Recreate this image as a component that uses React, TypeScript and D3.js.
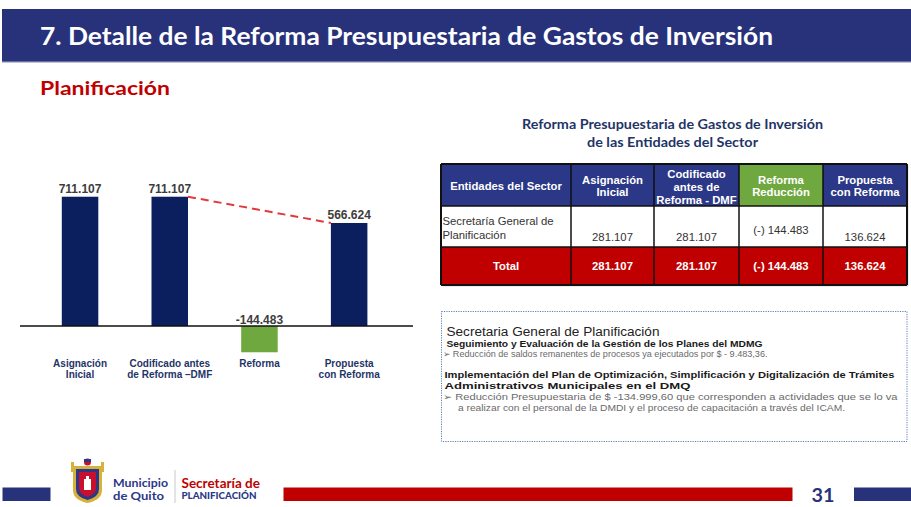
import React from "react";
import * as d3 from "d3";

// ---------- DATA ----------
const categories = ["Asignación Inicial", "Codificado antes de Reforma –DMF", "Reforma", "Propuesta con Reforma"];
const categoryLines = [["Asignación", "Inicial"], ["Codificado antes", "de Reforma –DMF"], ["Reforma"], ["Propuesta", "con Reforma"]];
const values = [711.107, 711.107, -144.483, 566.624];
const valueLabels = ["711.107", "711.107", "-144.483", "566.624"];

const tableTitle = ["Reforma Presupuestaria de Gastos de Inversión", "de las Entidades del Sector"];
const tableHeaders = [["Entidades del  Sector"], ["Asignación", "Inicial"], ["Codificado", "antes de", "Reforma - DMF"], ["Reforma", "Reducción"], ["Propuesta", "con Reforma"]];
const entityName = ["Secretaría General de", "Planificación"];
const rowValues = ["281.107", "281.107", "(-) 144.483", "136.624"];
const totalLabel = "Total";
const totalValues = ["281.107", "281.107", "(-) 144.483", "136.624"];

const noteTitle = "Secretaria General de Planificación";
const noteLines = [
  { t: "Seguimiento y Evaluación de la Gestión de los Planes del MDMG", kind: "bold" },
  { t: "➢  Reducción de saldos remanentes de procesos ya ejecutados por $ - 9.483,36.", kind: "text" },
  { t: "Implementación del Plan de Optimización, Simplificación y Digitalización de Trámites", kind: "bold" },
  { t: "Administrativos Municipales en el DMQ", kind: "bold" },
  { t: "➢  Reducción Presupuestaria de $ -134.999,60 que corresponden a actividades que se lo va", kind: "text" },
  { t: "a realizar con el personal de la DMDI y el proceso de capacitación a través del ICAM.", kind: "text" },
];

const pageTitle = "7. Detalle de la Reforma Presupuestaria de Gastos de Inversión";
const subTitle = "Planificación";
const pageNumber = "31";

// ---------- STYLE ----------
const NAVY = "#28327a";
const BAR = "#0b1f5e";
const GREEN = "#6fa83f";
const RED = "#c00000";
const ARIAL = "'Liberation Sans', Arial, sans-serif";
const CAL = "Lato, 'Open Sans', sans-serif";

export default function App() {
  const x = d3.scaleBand<string>().domain(categories).range([35.2, 394]).paddingInner(0.593).paddingOuter(0.2965);
  const y = d3.scaleLinear().domain([-200, 800]).range([326 + 200 * 0.1818, 326 - 800 * 0.1818]);
  const y0 = y(0);

  // table layout
  const colX = [441, 571, 654, 739, 823, 907];
  const rowY = [164, 206, 247, 285];

  const i1 = 1, i3 = 3;
  const dashX1 = (x(categories[i1]) as number) + x.bandwidth();
  const dashX2 = x(categories[i3]) as number;

  const noteY = [347, 357, 378, 388.8, 400, 410.8];
  const noteX = [446.5, 442.5, 444.5, 444.5, 442.5, 458];
  const noteW = [316, 325, 450, 246, 455, 387];

  return (
    <div style={{ position: "absolute", left: 0, top: 0 }}>
      <svg width={911} height={507} style={{ display: "block", background: "#fff" }}>
        {/* Header band */}
        <rect x={2} y={9} width={909} height={53} fill={NAVY} />
        <rect x={2} y={61.5} width={909} height={1.2} fill="#a7acc9" />
        <text x={40} y={45} fill="#fff" fontFamily={CAL} fontWeight={700} fontSize={24} textLength={733} lengthAdjust="spacingAndGlyphs">{pageTitle}</text>
        <text x={40} y={95} fill={RED} fontFamily={CAL} fontWeight={700} fontSize={19} textLength={130} lengthAdjust="spacingAndGlyphs">{subTitle}</text>

        {/* Bar chart */}
        {categories.map((c, i) => {
          const v = values[i];
          const top = v >= 0 ? y(v) : y0;
          const h = Math.abs(y(v) - y0);
          return <rect key={c} x={x(c)} y={top} width={x.bandwidth()} height={h} fill={v >= 0 ? BAR : GREEN} />;
        })}
        <line x1={20} x2={413} y1={y0} y2={y0} stroke="#111" strokeWidth={1.5} />
        <line x1={dashX1} y1={y(values[i1])} x2={dashX2} y2={y(values[i3])} stroke="#e23a3a" strokeWidth={2} strokeDasharray="8,5" />
        {categories.map((c, i) => {
          const v = values[i];
          const cx = (x(c) as number) + x.bandwidth() / 2;
          const ly = v >= 0 ? y(v) - 3.5 : y0 - 2.5;
          return (
            <text key={c} x={cx} y={ly} textAnchor="middle" fontFamily={ARIAL} fontWeight={700} fontSize={12} fill="#3d3d3d">{valueLabels[i]}</text>
          );
        })}
        {categories.map((c, i) => {
          const cx = (x(c) as number) + x.bandwidth() / 2;
          return (
            <text key={c} textAnchor="middle" fontFamily={ARIAL} fontWeight={700} fontSize={10} fill="#1f3567">
              {categoryLines[i].map((l, j) => (
                <tspan key={j} x={cx} y={367 + j * 11}>{l}</tspan>
              ))}
            </text>
          );
        })}

        {/* Table title */}
        <text x={672.5} y={129} textAnchor="middle" fill="#1f3567" fontFamily={CAL} fontWeight={700} fontSize={13.5} textLength={301} lengthAdjust="spacingAndGlyphs">{tableTitle[0]}</text>
        <text x={672.5} y={147} textAnchor="middle" fill="#1f3567" fontFamily={CAL} fontWeight={700} fontSize={13.5} textLength={171} lengthAdjust="spacingAndGlyphs">{tableTitle[1]}</text>

        {/* Table */}
        <rect x={colX[0] + 1.5} y={rowY[0] + 1.5} width={colX[5] - colX[0]} height={rowY[3] - rowY[0]} fill="#bdbdbd" opacity={0.5} />
        {tableHeaders.map((h, i) => (
          <rect key={"h" + i} x={colX[i]} y={rowY[0]} width={colX[i + 1] - colX[i]} height={rowY[1] - rowY[0]} fill={i === 3 ? GREEN : "#2b3787"} />
        ))}
        <rect x={colX[0]} y={rowY[1]} width={colX[5] - colX[0]} height={rowY[2] - rowY[1]} fill="#fff" />
        <rect x={colX[0]} y={rowY[2]} width={colX[5] - colX[0]} height={rowY[3] - rowY[2]} fill={RED} />
        {tableHeaders.map((h, i) => {
          const cx = (colX[i] + colX[i + 1]) / 2;
          const sp = h.length === 3 ? 13 : 12;
          const c = 186 - ((h.length - 1) * sp) / 2 + (h.length === 3 ? 1 : 0);
          return (
            <text key={"ht" + i} textAnchor="middle" fill="#fff" fontFamily={ARIAL} fontWeight={700} fontSize={11.3}>
              {h.map((l, j) => (
                <tspan key={j} x={cx} y={c + j * sp + 4}>{l}</tspan>
              ))}
            </text>
          );
        })}
        <text fontFamily={ARIAL} fontSize={11.3} fill="#333">
          {entityName.map((l, j) => (
            <tspan key={j} x={442.5} y={225 + j * 14}>{l}</tspan>
          ))}
        </text>
        {rowValues.map((v, i) => (
          <text key={"rv" + i} x={(colX[i + 1] + colX[i + 2]) / 2} y={i === 2 ? 234 : 240.5} textAnchor="middle" fontFamily={ARIAL} fontSize={11.3} fill="#333">{v}</text>
        ))}
        <text x={(colX[0] + colX[1]) / 2} y={270} textAnchor="middle" fontFamily={ARIAL} fontWeight={700} fontSize={11.3} fill="#fff">{totalLabel}</text>
        {totalValues.map((v, i) => (
          <text key={"tv" + i} x={(colX[i + 1] + colX[i + 2]) / 2} y={270} textAnchor="middle" fontFamily={ARIAL} fontWeight={700} fontSize={11.3} fill="#fff">{v}</text>
        ))}
        {colX.map((cx, i) => (
          <line key={"vl" + i} x1={cx} x2={cx} y1={rowY[0]} y2={rowY[3]} stroke="#111" strokeWidth={i === 0 || i === 5 ? 2 : 1.5} />
        ))}
        {rowY.map((ry, i) => (
          <line key={"hl" + i} x1={colX[0]} x2={colX[5]} y1={ry} y2={ry} stroke="#111" strokeWidth={i === 0 || i === 3 ? 2 : 1.5} />
        ))}

        {/* Note box */}
        <rect x={441.5} y={311.5} width={465.5} height={130} fill="#fff" stroke="#5a7fb8" strokeWidth={1} strokeDasharray="1.2,1.2" />
        <text x={446.5} y={335.5} fontFamily={ARIAL} fontSize={12.5} fill="#222" textLength={213} lengthAdjust="spacingAndGlyphs">{noteTitle}</text>
        {noteLines.map((l, i) => (
          <text key={"n" + i} x={noteX[i]} y={noteY[i]} fontFamily={ARIAL} fontSize={l.kind === "bold" ? 9.6 : 9.3} fontWeight={l.kind === "bold" ? 700 : 400} fill={l.kind === "bold" ? "#1a1a1a" : "#6a6a6a"} textLength={noteW[i]} lengthAdjust="spacingAndGlyphs">{l.t}</text>
        ))}

        {/* Footer */}
        <rect x={2.5} y={487.5} width={48} height={13.5} fill={NAVY} />
        <rect x={283.5} y={487.5} width={509} height={13.5} fill={RED} />
        <rect x={854} y={487.5} width={57} height={13.5} fill={NAVY} />
        <text x={811.5} y={502} fontFamily={CAL} fontWeight={700} fontSize={19.5} fill={NAVY} textLength={23} lengthAdjust="spacingAndGlyphs">{pageNumber}</text>

        {/* Logo shield */}
        <g>
          <path d="M73,466 L102,466 L102,490 Q102,500 87.5,503 Q73,500 73,490 Z" fill="#d8b13a" />
          <path d="M76,469 L99,469 L99,489 Q99,497 87.5,500 Q76,497 76,489 Z" fill="#2b3787" />
          <path d="M79,472 L96,472 L96,488 Q96,494 87.5,497 Q79,494 79,488 Z" fill="#c8102e" />
          <rect x={84} y={479} width={7} height={11} fill="#fff" />
          <rect x={86} y={476} width={3} height={4} fill="#fff" />
          <circle cx={87.5} cy={462} r={3.5} fill="#c8102e" />
          <rect x={84} y={459} width={7} height={3} fill="#2b3787" />
          <rect x={71} y={462} width={3} height={10} fill="#d8b13a" />
          <rect x={101} y={462} width={3} height={10} fill="#d8b13a" />
        </g>
        <text x={113} y={487} fontFamily={CAL} fontWeight={700} fontSize={11.5} fill="#2b3787" textLength={55} lengthAdjust="spacingAndGlyphs">Municipio</text>
        <text x={113} y={499.5} fontFamily={CAL} fontWeight={700} fontSize={11.5} fill="#2b3787" textLength={51} lengthAdjust="spacingAndGlyphs">de Quito</text>
        <line x1={175} x2={175} y1={470} y2={503} stroke="#c9c9c9" strokeWidth={1} />
        <text x={181.5} y={488} fontFamily={CAL} fontWeight={700} fontSize={13} fill={RED} textLength={78.5} lengthAdjust="spacingAndGlyphs">Secretaría de</text>
        <text x={181.5} y={498.5} fontFamily={CAL} fontWeight={900} fontSize={9.5} fill="#2b3787" textLength={75} lengthAdjust="spacingAndGlyphs">PLANIFICACIÓN</text>
      </svg>
    </div>
  );
}
